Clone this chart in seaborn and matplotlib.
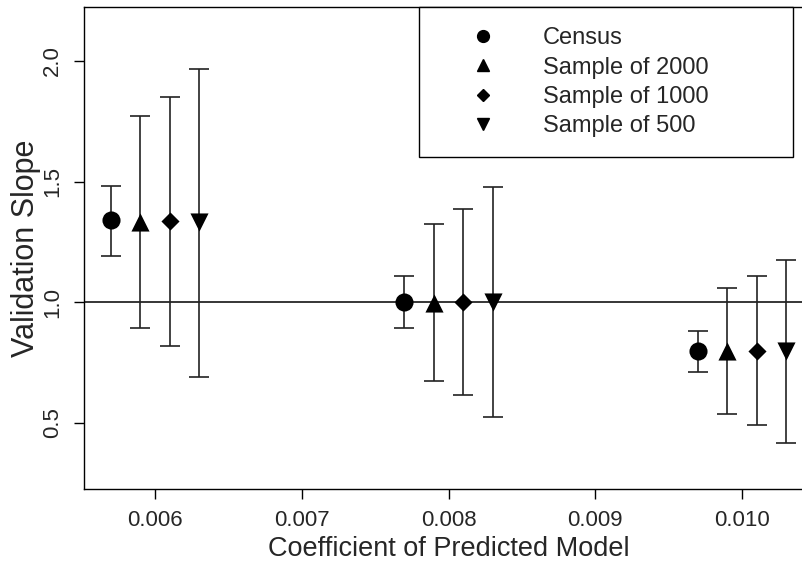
import matplotlib
matplotlib.use("Agg")
import matplotlib.pyplot as plt
from matplotlib.lines import Line2D
import seaborn as sns
import pandas as pd

# true coefficient values and horizontal dodge for each design
coefficients = [0.006, 0.008, 0.010]
groups = ["Census", "Sample of 2000", "Sample of 1000", "Sample of 500"]
dodge = [-0.0003, -0.0001, 0.0001, 0.0003]

slope = {
    "Census": [1.339, 1.000, 0.796],
    "Sample of 2000": [1.333, 0.998, 0.799],
    "Sample of 1000": [1.336, 1.000, 0.800],
    "Sample of 500": [1.333, 1.000, 0.796],
}
lower = {
    "Census": [1.193, 0.894, 0.709],
    "Sample of 2000": [0.894, 0.674, 0.538],
    "Sample of 1000": [0.818, 0.614, 0.493],
    "Sample of 500": [0.690, 0.523, 0.417],
}
upper = {
    "Census": [1.483, 1.107, 0.881],
    "Sample of 2000": [1.773, 1.326, 1.059],
    "Sample of 1000": [1.852, 1.388, 1.107],
    "Sample of 500": [1.965, 1.477, 1.175],
}

markers = {"Census": "o", "Sample of 2000": "^", "Sample of 1000": "D", "Sample of 500": "v"}
sizes = {"Census": 170, "Sample of 2000": 170, "Sample of 1000": 85, "Sample of 500": 170}
leg_ms = {"Census": 8.5, "Sample of 2000": 8.5, "Sample of 1000": 6, "Sample of 500": 8.5}

rows = []
for g, d in zip(groups, dodge):
    for i, c in enumerate(coefficients):
        rows.append({"group": g, "x": c + d, "slope": slope[g][i],
                     "lo": lower[g][i], "hi": upper[g][i]})
df = pd.DataFrame(rows)

sns.set_style("ticks")
plt.rcParams["font.family"] = ["Liberation Sans", "DejaVu Sans"]

fig = plt.figure(figsize=(8.03, 5.71), dpi=100)
ax = fig.add_axes([84 / 803, 82 / 571, 729 / 803, 482 / 571])

ax.axhline(1.0, color="black", lw=1.1, zorder=1)

for g in groups:
    sub = df[df["group"] == g]
    ax.errorbar(sub["x"], sub["slope"],
                yerr=[sub["slope"] - sub["lo"], sub["hi"] - sub["slope"]],
                fmt="none", ecolor="#222222", elinewidth=1.2, capsize=7.5,
                capthick=1.2, zorder=2)
    sns.scatterplot(data=sub, x="x", y="slope", marker=markers[g], s=sizes[g],
                    color="black", edgecolor="black", linewidth=0, ax=ax,
                    legend=False, zorder=3)

ax.set_xlim(0.005516, 0.010484)
ax.set_ylim(0.226, 2.224)
ax.set_xticks([0.006, 0.007, 0.008, 0.009, 0.010])
ax.set_xticklabels(["0.006", "0.007", "0.008", "0.009", "0.010"], fontsize=16)
ax.set_yticks([0.5, 1.0, 1.5, 2.0])
ax.set_yticklabels(["0.5", "1.0", "1.5", "2.0"], rotation=90, va="center", fontsize=16)
ax.tick_params(axis="both", length=7, width=1, color="black", pad=8)
ax.set_xlabel("Coefficient of Predicted Model", fontsize=19.5, labelpad=4)
ax.set_ylabel("Validation Slope", fontsize=22, labelpad=1)
for s in ax.spines.values():
    s.set_color("black")
    s.set_linewidth(1)

handles = [Line2D([], [], marker=markers[g], color="black", linestyle="none",
                  markersize=leg_ms[g]) for g in groups]
leg = ax.legend(handles, groups, loc="upper left",
                bbox_to_anchor=(335 / 729, 1 - 5 / 482, 374 / 729, 0.01),
                mode="expand", fontsize=17, frameon=True, fancybox=False,
                edgecolor="black", framealpha=1, borderpad=0.85,
                handlelength=3.73, handletextpad=0.68, labelspacing=0.31,
                borderaxespad=0)
leg.get_frame().set_linewidth(1)

fig.savefig("out.png", dpi=100)
